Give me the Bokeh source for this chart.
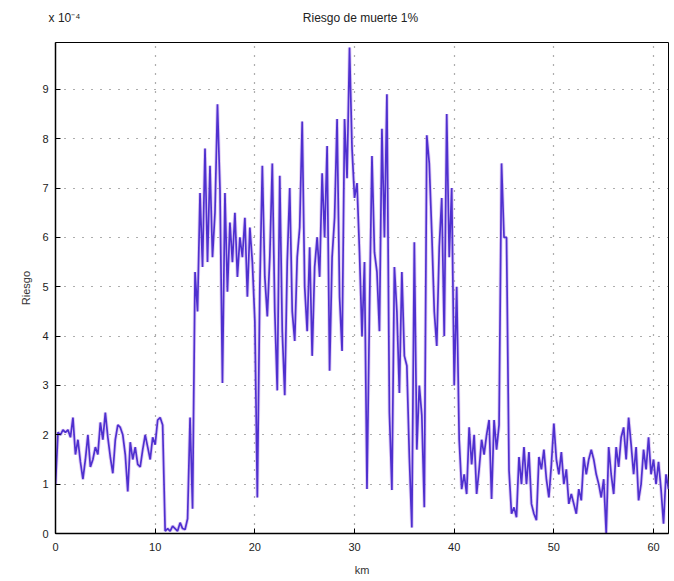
from bokeh.plotting import figure
from bokeh.models import Range1d, FixedTicker, LinearAxis, ColumnDataSource
from bokeh.embed import file_html
from bokeh.resources import INLINE

# --- data (riesgo in units of 1e-4), sampled every 0.25 km starting at 0 km ---
km_start = 0.0
km_step = 0.25

riesgo_0_11 = [1.0, 2.05, 2.0, 2.1, 2.05, 2.1, 1.95, 2.35, 1.6, 1.9, 1.45, 1.1,
               1.5, 2.0, 1.35, 1.5, 1.75, 1.6, 2.25, 1.9, 2.45, 1.95, 1.55, 1.22,
               1.9, 2.2, 2.15, 2.0, 1.6, 0.85, 1.85, 1.5, 1.75, 1.4, 1.35, 1.7,
               2.0, 1.75, 1.5, 1.95, 1.8, 2.3, 2.35, 2.2]
riesgo_11_13 = [0.05, 0.1, 0.05, 0.15, 0.1, 0.05, 0.22, 0.1, 0.08, 0.3]
riesgo_13_22 = [2.35, 0.5, 5.3, 4.5, 6.9, 5.4, 7.8, 5.5, 7.45, 5.6,
                6.5, 8.7, 7.0, 3.05, 6.9, 4.9, 6.3, 5.5, 6.5, 5.2,
                6.0, 5.6, 6.4, 4.8, 6.2, 5.5, 4.3, 0.73, 5.0, 7.45,
                5.2, 4.4, 5.6, 7.5]
riesgo_22_30 = [4.5, 2.9, 7.25, 4.1, 2.8, 5.5, 7.0, 4.5, 3.9, 5.6,
                6.2, 8.35, 5.0, 4.1, 5.8, 3.6, 5.4, 6.0, 5.2, 7.3,
                6.0, 7.85, 3.3, 5.6, 6.4, 8.4, 4.8, 3.7, 8.4, 7.2,
                9.85, 7.8, 6.8, 7.1, 5.7]
riesgo_30_40 = [4.0, 5.5, 0.9, 4.5, 7.65, 5.7, 5.3, 4.1, 8.2, 6.0,
                8.9, 2.45, 0.88, 5.4, 4.5, 2.85, 5.3, 3.6, 3.4, 1.55,
                0.12, 5.9, 1.7, 3.0, 2.4, 0.53, 8.07, 7.5, 6.1, 4.5,
                3.8, 5.8, 6.8, 4.0, 8.5, 5.6, 7.0, 3.0, 5.0, 1.9, 0.9]
riesgo_41_62 = [1.2, 0.8, 2.15, 1.4, 2.0, 0.8, 1.3, 1.9, 1.6, 2.0,
                2.3, 0.7, 2.3, 1.7, 2.2, 7.5, 6.0, 6.0, 1.28, 0.4,
                0.53, 0.33, 1.55, 1.0, 1.75, 1.0, 1.65, 0.6, 0.4, 0.27,
                1.55, 1.3, 1.7, 1.1, 0.73, 1.4, 2.23, 1.5, 1.2, 1.65,
                1.0, 1.3, 0.6, 0.8, 0.6, 0.4, 0.9, 0.67, 1.55, 1.2,
                1.5, 1.7, 1.5, 1.2, 1.0, 0.73, 1.1, 0.0, 1.75, 1.2,
                0.8, 1.75, 1.35, 1.95, 2.15, 1.5, 2.35, 1.8, 1.2, 1.75,
                0.67, 1.0, 1.7, 1.3, 1.95, 1.2, 1.5, 1.0, 1.45, 0.9,
                0.2, 1.2, 0.9]

riesgo = (riesgo_0_11 + riesgo_11_13 + riesgo_13_22 + riesgo_22_30
          + riesgo_30_40 + riesgo_41_62)
km = [km_start + i * km_step for i in range(len(riesgo))]

x_ticks = [0, 10, 20, 30, 40, 50, 60]
y_ticks = [0, 1, 2, 3, 4, 5, 6, 7, 8, 9]

title = "Riesgo de muerte 1%"
x_label = "km"
y_label = "Riesgo"
scale_label = "x 10⁻⁴"
# positions (km) of the header texts along the top edge
header_pos = [0.9, 30.6]

FONT = "Liberation Sans"

p = figure(width=670, height=580, output_backend="svg", toolbar_location=None,
           x_range=Range1d(0, 61.5), y_range=Range1d(0, 9.95),
           min_border_left=55, min_border_right=2, min_border_top=42,
           min_border_bottom=47)
p.background_fill_color = "white"
p.border_fill_color = "white"
p.outline_line_color = "black"
p.outline_line_width = 1

for ax, ticks, lab in ((p.xaxis[0], x_ticks, x_label), (p.yaxis[0], y_ticks, y_label)):
    ax.ticker = FixedTicker(ticks=ticks)
    ax.axis_label = lab
    ax.axis_label_text_font = FONT
    ax.axis_label_text_font_size = "11px"
    ax.axis_label_text_font_style = "normal"
    ax.axis_label_text_color = "#333333"
    ax.major_label_text_font = FONT
    ax.major_label_text_font_size = "11px"
    ax.major_label_text_color = "#222222"
    ax.major_tick_in = 5
    ax.major_tick_out = 0
    ax.minor_tick_line_color = None
    ax.axis_line_color = "black"
    ax.axis_line_width = 1.5
    ax.major_tick_line_color = "black"

p.xaxis[0].major_label_standoff = 9
p.xaxis[0].axis_label_standoff = 10
p.yaxis[0].major_label_standoff = 7
p.yaxis[0].axis_label_standoff = 7

# header row: scale factor (left) and title (centre) on the same line
top = LinearAxis(ticker=FixedTicker(ticks=header_pos),
                 major_label_overrides={header_pos[0]: scale_label,
                                        header_pos[1]: title})
top.axis_line_color = None
top.major_tick_line_color = None
top.minor_tick_line_color = None
top.major_tick_in = 0
top.major_tick_out = 0
top.major_label_standoff = 18
top.major_label_text_font = FONT
top.major_label_text_font_size = "12px"
top.major_label_text_color = "#222222"
p.add_layout(top, "above")

for g in (p.xgrid[0], p.ygrid[0]):
    g.grid_line_color = "#333333"
    g.grid_line_dash = "1 8"
    g.grid_line_alpha = 0.8
    g.grid_line_width = 1.2

src = ColumnDataSource(dict(km=km, riesgo=riesgo))
p.line("km", "riesgo", source=src, color="#c7a4ec", line_width=3.5, line_alpha=0.55)
p.line("km", "riesgo", source=src, color="#4f30cf", line_width=1.7)

with open("out.html", "w") as f:
    f.write(file_html(p, INLINE))
